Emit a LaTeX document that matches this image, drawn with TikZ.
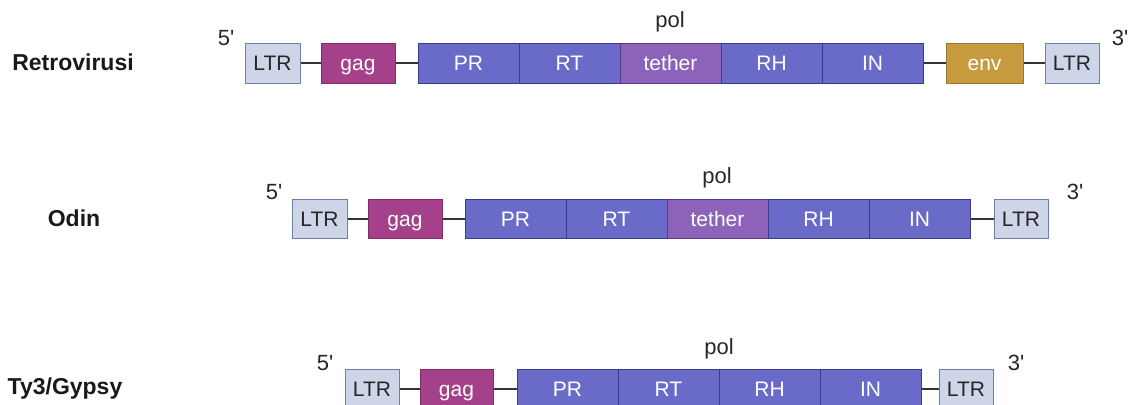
\documentclass[tikz,border=0pt]{standalone}
\usepackage{fontspec}
\setmainfont{Liberation Sans}
\newfontfamily\endfont{Liberation Sans}[Ligatures=ResetAll]
\definecolor{ltrfill}{HTML}{CFD5E8}
\definecolor{ltrdraw}{HTML}{6F7FA3}
\definecolor{gagfill}{HTML}{A5418A}
\definecolor{gagdraw}{HTML}{7E2D68}
\definecolor{polfill}{HTML}{6A6AC9}
\definecolor{poldraw}{HTML}{3B3B8C}
\definecolor{tethfill}{HTML}{8D62B9}
\definecolor{tethdraw}{HTML}{5A3A80}
\definecolor{envfill}{HTML}{C69A3F}
\definecolor{envdraw}{HTML}{9C7630}
\newcommand\gb[6]{\node[#1, minimum width={#4-#3}] (#2) at ({(#3+#4)/2},#5) {#6};}
\begin{document}
\begin{tikzpicture}[x=1pt,y=-1pt,
  box/.style={draw, line width=1pt, minimum height=39pt, inner sep=0pt,
    text height=16pt, text depth=1.5pt,
    font=\fontsize{21}{21}\selectfont, text=white},
  ltr/.style={box, fill=ltrfill, draw=ltrdraw, text=black!85},
  gag/.style={box, fill=gagfill, draw=gagdraw},
  polb/.style={box, fill=polfill, draw=poldraw},
  teth/.style={box, fill=tethfill, draw=tethdraw},
  envb/.style={box, fill=envfill, draw=envdraw},
  conn/.style={line width=2pt, draw=black!80},
  lab/.style={font=\bfseries\fontsize{23}{23}\selectfont, text=black!90},
  endlab/.style={font=\endfont\fontsize{22}{22}\selectfont, text=black!85, inner sep=0pt}]
\useasboundingbox (0,0) rectangle (1129,404);
\clip (0,0) rectangle (1129,404);
% Row 1: Retrovirusi
\node[lab] (labA) at (73,62) {Retrovirusi};
\gb{ltr}{aL}{245}{300}{63.5}{LTR}
\gb{gag}{aG}{321}{395}{63.5}{gag}
\gb{polb}{aPR}{418}{519}{63.5}{PR}
\gb{polb}{aRT}{519}{620}{63.5}{RT}
\gb{teth}{aT}{620}{721}{63.5}{tether}
\gb{polb}{aRH}{721}{822}{63.5}{RH}
\gb{polb}{aIN}{822}{923}{63.5}{IN}
\gb{envb}{aE}{946}{1023}{63.5}{env}
\gb{ltr}{aR}{1045}{1099}{63.5}{LTR}
\draw[conn] (aL.east) -- (aG.west);
\draw[conn] (aG.east) -- (aPR.west);
\draw[conn] (aIN.east) -- (aE.west);
\draw[conn] (aE.east) -- (aR.west);
\node[endlab] (aPol) at (670,22) {pol};
\node[endlab] (a5) at (226,38) {5'};
\node[endlab] (a3) at (1120,38) {3'};
% Row 2: Odin
\node[lab] (labB) at (74,218) {Odin};
\gb{ltr}{bL}{292}{347}{219}{LTR}
\gb{gag}{bG}{368}{442}{219}{gag}
\gb{polb}{bPR}{465}{566}{219}{PR}
\gb{polb}{bRT}{566}{667}{219}{RT}
\gb{teth}{bT}{667}{768}{219}{tether}
\gb{polb}{bRH}{768}{869}{219}{RH}
\gb{polb}{bIN}{869}{970}{219}{IN}
\gb{ltr}{bR}{994}{1048}{219}{LTR}
\draw[conn] (bL.east) -- (bG.west);
\draw[conn] (bG.east) -- (bPR.west);
\draw[conn] (bIN.east) -- (bR.west);
\node[endlab] (bPol) at (717,178) {pol};
\node[endlab] (b5) at (274,192) {5'};
\node[endlab] (b3) at (1075,192) {3'};
% Row 3: Ty3/Gypsy
\node[lab] (labC) at (65,389) {Ty3/Gypsy};
\gb{ltr}{cL}{345}{399}{389}{LTR}
\gb{gag}{cG}{420}{493}{389}{gag}
\gb{polb}{cPR}{517}{618}{389}{PR}
\gb{polb}{cRT}{618}{719}{389}{RT}
\gb{polb}{cRH}{719}{820}{389}{RH}
\gb{polb}{cIN}{820}{921}{389}{IN}
\gb{ltr}{cR}{939}{993}{389}{LTR}
\draw[conn] (cL.east) -- (cG.west);
\draw[conn] (cG.east) -- (cPR.west);
\draw[conn] (cIN.east) -- (cR.west);
\node[endlab] (cPol) at (719,349) {pol};
\node[endlab] (c5) at (325,363) {5'};
\node[endlab] (c3) at (1016,363) {3'};
\end{tikzpicture}
\end{document}
